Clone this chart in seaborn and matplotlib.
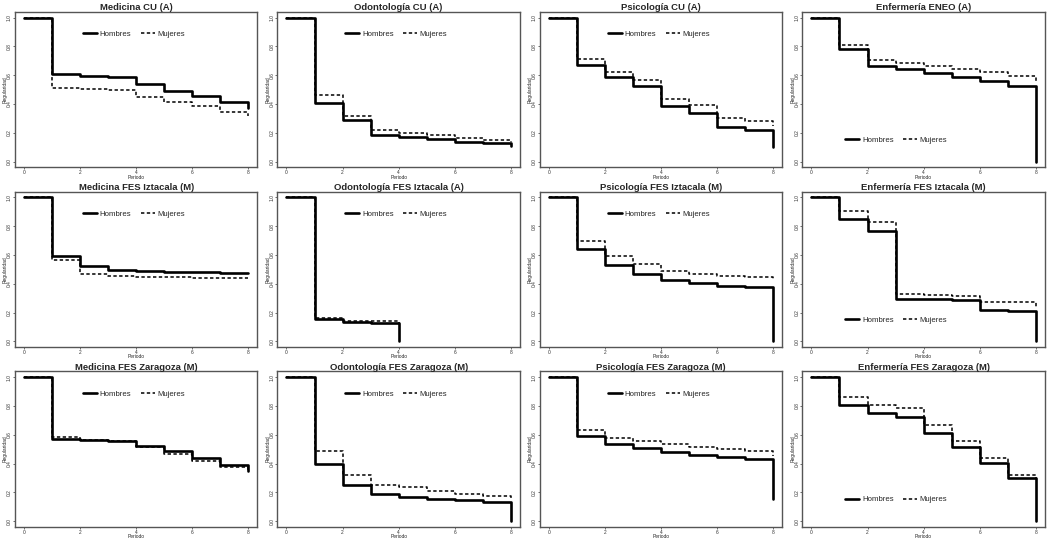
import matplotlib
matplotlib.use('Agg')
import matplotlib.pyplot as plt
import numpy as np
import pandas as pd
import seaborn as sns

# survival (regularidad) per period; last value is the drop at the final period
titles = ['Medicina CU (A)', 'Odontología CU (A)', 'Psicología CU (A)', 'Enfermería ENEO (A)',
          'Medicina FES Iztacala (M)', 'Odontología FES Iztacala (A)', 'Psicología FES Iztacala (M)', 'Enfermería FES Iztacala (M)',
          'Medicina FES Zaragoza (M)', 'Odontología FES Zaragoza (M)', 'Psicología FES Zaragoza (M)', 'Enfermería FES Zaragoza (M)']

hombres = [
    [1.0, 0.610, 0.593, 0.588, 0.537, 0.493, 0.458, 0.412, 0.372],
    [1.0, 0.410, 0.290, 0.186, 0.170, 0.158, 0.140, 0.127, 0.110],
    [1.0, 0.674, 0.585, 0.522, 0.389, 0.337, 0.244, 0.218, 0.105],
    [1.0, 0.779, 0.667, 0.644, 0.614, 0.589, 0.559, 0.522, 0.0],
    [1.0, 0.596, 0.522, 0.499, 0.487, 0.485, 0.480, 0.478, 0.476],
    [1.0, 0.157, 0.132, 0.128, 0.0],
    [1.0, 0.645, 0.528, 0.465, 0.426, 0.406, 0.382, 0.376, 0.0],
    [1.0, 0.850, 0.765, 0.295, 0.293, 0.288, 0.219, 0.210, 0.0],
    [1.0, 0.572, 0.563, 0.558, 0.525, 0.486, 0.442, 0.391, 0.347],
    [1.0, 0.398, 0.248, 0.188, 0.171, 0.157, 0.146, 0.132, 0.0],
    [1.0, 0.588, 0.537, 0.507, 0.481, 0.460, 0.444, 0.430, 0.151],
    [1.0, 0.804, 0.748, 0.723, 0.612, 0.515, 0.404, 0.298, 0.0],
]

mujeres = [
    [1.0, 0.512, 0.502, 0.495, 0.451, 0.414, 0.384, 0.347, 0.314],
    [1.0, 0.465, 0.320, 0.220, 0.200, 0.183, 0.162, 0.148, 0.134],
    [1.0, 0.712, 0.620, 0.567, 0.438, 0.391, 0.305, 0.279, 0.250],
    [1.0, 0.807, 0.706, 0.683, 0.662, 0.641, 0.623, 0.593, 0.550],
    [1.0, 0.566, 0.471, 0.452, 0.448, 0.445, 0.441, 0.439, 0.439],
    [1.0, 0.164, 0.143, 0.140, 0.130],
    [1.0, 0.698, 0.592, 0.535, 0.488, 0.470, 0.452, 0.445, 0.430],
    [1.0, 0.903, 0.832, 0.327, 0.323, 0.318, 0.274, 0.272, 0.242],
    [1.0, 0.581, 0.567, 0.560, 0.514, 0.465, 0.421, 0.375, 0.345],
    [1.0, 0.488, 0.324, 0.252, 0.234, 0.211, 0.188, 0.176, 0.162],
    [1.0, 0.633, 0.574, 0.556, 0.533, 0.514, 0.500, 0.486, 0.453],
    [1.0, 0.859, 0.808, 0.788, 0.670, 0.557, 0.437, 0.321, 0.296],
]

# legend placed bottom-left for the nursing panels
legend_low = [False, False, False, True, False, False, False, True, False, False, False, True]

sns.set_style('white')
plt.rcParams['font.family'] = ['Liberation Sans', 'DejaVu Sans']

fig, axes = plt.subplots(3, 4, figsize=(10.49, 5.38), dpi=100)
fig.subplots_adjust(left=0.0143, right=0.996, top=0.978, bottom=0.0205, wspace=0.083, hspace=0.155)

for i, ax in enumerate(axes.flat):
    h = hombres[i]
    m = mujeres[i]
    df_h = pd.DataFrame({'Periodo': np.arange(len(h)), 'Regularidad': h})
    df_m = pd.DataFrame({'Periodo': np.arange(len(m)), 'Regularidad': m})
    sns.lineplot(data=df_h, x='Periodo', y='Regularidad', ax=ax, estimator=None, sort=False,
                 drawstyle='steps-post', color='black', lw=1.9, label='Hombres')
    sns.lineplot(data=df_m, x='Periodo', y='Regularidad', ax=ax, estimator=None, sort=False,
                 drawstyle='steps-post', color='black', lw=1.1, linestyle=(0, (2.2, 1.6)), label='Mujeres')
    ax.set_xlim(-0.32, 8.32)
    ax.set_ylim(-0.04, 1.04)
    ax.set_xticks([0, 2, 4, 6, 8])
    ax.set_yticks([0, 0.2, 0.4, 0.6, 0.8, 1.0])
    ax.set_yticklabels(['0.0', '0.2', '0.4', '0.6', '0.8', '1.0'], rotation=90, va='center')
    ax.tick_params(axis='both', labelsize=3.5, length=1.5, width=0.5, pad=0.6, direction='out',
                   bottom=True, left=True, colors='#333333')
    ax.set_xlabel('Periodo', fontsize=3.5, labelpad=-0.5)
    ax.set_ylabel('Regularidad', fontsize=3.5, labelpad=-0.5)
    for sp in ax.spines.values():
        sp.set_color('#555555')
        sp.set_linewidth(1.0)
    ax.set_title(titles[i], fontsize=6.8, fontweight='bold', pad=1.2)
    if legend_low[i]:
        anchor = (0.177, 0.175)
    else:
        anchor = (0.28, 0.855)
    ax.legend(loc='center left', bbox_to_anchor=anchor, ncol=2, frameon=False, fontsize=5.6,
              handlelength=1.8, handletextpad=0.35, columnspacing=1.2, borderpad=0, borderaxespad=0)

fig.savefig('out.png', dpi=100)
